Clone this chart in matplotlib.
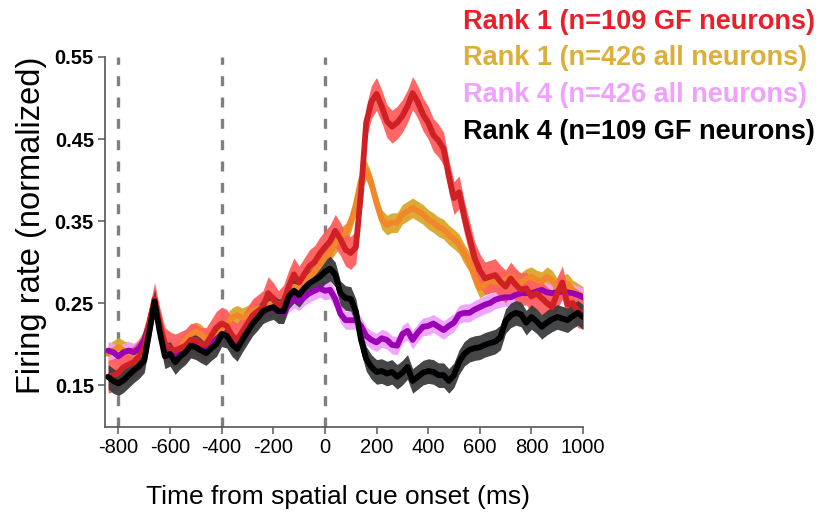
import numpy as np
import matplotlib
matplotlib.use("Agg")
import matplotlib.pyplot as plt

plt.rcParams['font.family'] = ['Liberation Sans', 'DejaVu Sans']

# ---------------- data ----------------
time_ms = np.arange(-840, 1001, 20)

rank1_all = [
    0.188, 0.192, 0.196, 0.192, 0.190, 0.188, 0.195, 0.205, 0.228, 0.252,
    0.222, 0.195, 0.193, 0.190, 0.195, 0.205, 0.212, 0.215, 0.212, 0.205,
    0.210, 0.215, 0.218, 0.225, 0.232, 0.235, 0.232, 0.235, 0.240, 0.243,
    0.245, 0.248, 0.250, 0.248, 0.250, 0.262, 0.270, 0.268, 0.275, 0.282,
    0.288, 0.296, 0.305, 0.312, 0.322, 0.330, 0.335, 0.348, 0.370, 0.400,
    0.412, 0.396, 0.372, 0.352, 0.345, 0.348, 0.348, 0.358, 0.362, 0.366,
    0.362, 0.358, 0.352, 0.348, 0.343, 0.340, 0.333, 0.328, 0.322, 0.310,
    0.300, 0.282, 0.268, 0.272, 0.278, 0.275, 0.276, 0.278, 0.282, 0.276,
    0.275, 0.280, 0.282, 0.278, 0.276, 0.282, 0.278, 0.268, 0.272, 0.274,
    0.266, 0.262, 0.258]

rank4_all = [
    0.192, 0.190, 0.185, 0.190, 0.192, 0.190, 0.195, 0.205, 0.225, 0.250,
    0.220, 0.190, 0.190, 0.185, 0.190, 0.195, 0.200, 0.200, 0.198, 0.196,
    0.200, 0.205, 0.212, 0.212, 0.205, 0.200, 0.208, 0.218, 0.226, 0.233,
    0.240, 0.243, 0.244, 0.240, 0.238, 0.250, 0.255, 0.252, 0.258, 0.262,
    0.265, 0.268, 0.265, 0.266, 0.255, 0.237, 0.229, 0.229, 0.229, 0.222,
    0.210, 0.205, 0.202, 0.207, 0.205, 0.199, 0.198, 0.212, 0.216, 0.205,
    0.214, 0.221, 0.222, 0.225, 0.221, 0.217, 0.222, 0.226, 0.236, 0.238,
    0.238, 0.242, 0.245, 0.248, 0.250, 0.254, 0.256, 0.257, 0.257, 0.260,
    0.262, 0.262, 0.262, 0.264, 0.266, 0.263, 0.262, 0.263, 0.264, 0.263,
    0.262, 0.260, 0.257]

rank1_gf = [
    0.160, 0.162, 0.165, 0.172, 0.175, 0.178, 0.185, 0.195, 0.225, 0.255,
    0.225, 0.200, 0.195, 0.192, 0.195, 0.198, 0.205, 0.205, 0.200, 0.200,
    0.210, 0.220, 0.225, 0.222, 0.210, 0.205, 0.215, 0.225, 0.235, 0.240,
    0.245, 0.262, 0.255, 0.245, 0.252, 0.270, 0.285, 0.275, 0.285, 0.295,
    0.300, 0.310, 0.318, 0.325, 0.338, 0.328, 0.315, 0.311, 0.318, 0.385,
    0.470, 0.495, 0.505, 0.490, 0.472, 0.465, 0.470, 0.478, 0.490, 0.506,
    0.495, 0.480, 0.470, 0.455, 0.448, 0.438, 0.405, 0.378, 0.385, 0.355,
    0.330, 0.305, 0.290, 0.280, 0.282, 0.284, 0.276, 0.270, 0.280, 0.272,
    0.266, 0.268, 0.258, 0.262, 0.256, 0.250, 0.245, 0.262, 0.275, 0.248,
    0.250, 0.240, 0.238]

rank4_gf = [
    0.160, 0.155, 0.152, 0.156, 0.162, 0.168, 0.173, 0.180, 0.215, 0.252,
    0.215, 0.185, 0.188, 0.178, 0.185, 0.190, 0.198, 0.196, 0.192, 0.189,
    0.195, 0.200, 0.212, 0.210, 0.200, 0.194, 0.205, 0.215, 0.225, 0.232,
    0.240, 0.243, 0.245, 0.240, 0.240, 0.258, 0.265, 0.260, 0.268, 0.274,
    0.278, 0.282, 0.288, 0.292, 0.285, 0.262, 0.256, 0.255, 0.240, 0.205,
    0.182, 0.172, 0.166, 0.167, 0.164, 0.166, 0.160, 0.165, 0.172, 0.155,
    0.160, 0.165, 0.167, 0.166, 0.162, 0.162, 0.155, 0.162, 0.178, 0.188,
    0.193, 0.195, 0.196, 0.199, 0.201, 0.203, 0.208, 0.228, 0.235, 0.238,
    0.236, 0.226, 0.233, 0.228, 0.221, 0.226, 0.230, 0.233, 0.231, 0.229,
    0.234, 0.238, 0.233]

sem = {"rank1_all": 0.012, "rank4_all": 0.011, "rank1_gf": 0.020, "rank4_gf": 0.015}

legend_labels = ["Rank 1 (n=109 GF neurons)", "Rank 1 (n=426 all neurons)",
                 "Rank 4 (n=426 all neurons)", "Rank 4 (n=109 GF neurons)"]
event_times = [-800, -400, 0]
x_ticks = [-800, -600, -400, -200, 0, 200, 400, 600, 800, 1000]
y_ticks = [0.15, 0.25, 0.35, 0.45, 0.55]

# ---------------- figure ----------------
W, H = 823, 513
fig = plt.figure(figsize=(W / 100, H / 100), dpi=100)
ax = fig.add_axes([105 / W, 1 - 427 / H, (583 - 105) / W, (427 - 57) / H])

series = [
    ("rank1_all", rank1_all, "#daa72a", "#f2862a"),
    ("rank4_all", rank4_all, "#f0a0ff", "#9a00b4"),
    ("rank1_gf", rank1_gf, "#ff5e5e", "#cf2026"),
    ("rank4_gf", rank4_gf, "#3a3c3e", "#000000"),
]
for key, vals, band_c, line_c in series:
    v = np.asarray(vals)
    s = sem[key]
    ax.fill_between(time_ms, v - s, v + s, color=band_c, lw=0, alpha=0.95)
    ax.plot(time_ms, v, color=line_c, lw=4.2, solid_capstyle='round', solid_joinstyle='round')

for t in event_times:
    ax.axvline(t, color="#808080", lw=2.4, linestyle=(0, (3.0, 3.4)), zorder=0.5)

ax.set_xlim(-852, 1000)
ax.set_ylim(0.0988, 0.55)
ax.set_xticks(x_ticks)
ax.set_xticklabels([str(v) for v in x_ticks], fontsize=14.5)
ax.set_yticks(y_ticks)
ax.set_yticklabels([f"{v:.2f}" for v in y_ticks], fontsize=14.5, fontweight='bold')
ax.tick_params(axis='x', length=5, width=1.2, color="#666666", pad=3)
ax.tick_params(axis='y', length=5, width=1.2, color="#666666", pad=3)
for sp in ['top', 'right']:
    ax.spines[sp].set_visible(False)
for sp in ['left', 'bottom']:
    ax.spines[sp].set_color("#555555")
    ax.spines[sp].set_linewidth(1.2)

ax.set_xlabel("Time from spatial cue onset (ms)", fontsize=19, va='bottom')
ax.xaxis.set_label_coords(0.487, -0.222)
ax.set_ylabel("Firing rate (normalized)", fontsize=23.5)
ax.yaxis.set_label_coords(-0.122, 0.546)

legend_colors = ["#e8202a", "#dcae3a", "#f0a0ff", "#000000"]
legend_y = [22, 58, 95, 132]
for lab, c, yy in zip(legend_labels, legend_colors, legend_y):
    fig.text(463 / W, 1 - yy / H, lab, color=c, fontsize=19.5, fontweight='bold',
             ha='left', va='center')

fig.savefig("out.png", dpi=100)
